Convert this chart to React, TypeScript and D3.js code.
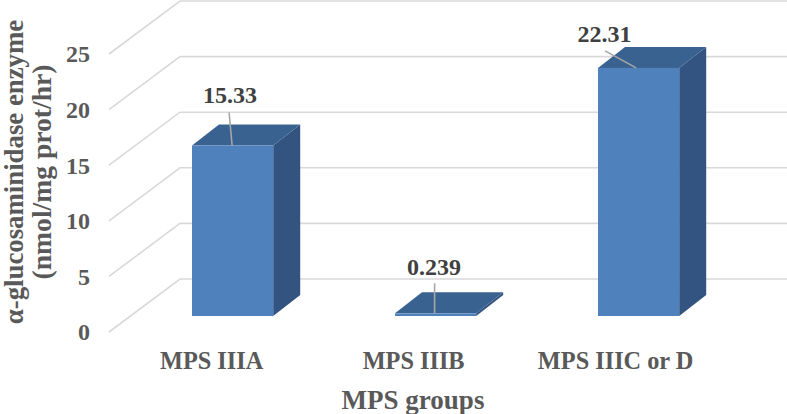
import React from 'react';
import * as d3 from 'd3';

const categories = ['MPS IIIA', 'MPS IIIB', 'MPS IIIC or D'];
const values = [15.33, 0.239, 22.31];
const valueLabels = ['15.33', '0.239', '22.31'];
const yTicks = [0, 5, 10, 15, 20, 25];
const yTitle = ['α-glucosaminidase enzyme', '(nmol/mg prot/hr)'];
const xTitle = 'MPS groups';

const width = 787;
const height = 414;
const font = '"Liberation Serif", serif';

// 3d offsets
const gridDy = -53;
const barDx = 27;
const barDy = -21;
const floorY = 316; // front of the bars
const labelShift = [-21, -22, -23];

// y scale on the front edge of the grid, 55.6px per 5 units
const y = d3.scaleLinear().domain([0, 25]).range([332, 54]);
const barH = d3.scaleLinear().domain([0, 25]).range([0, 278]);
const x = d3.scaleBand().domain(categories).range([131.1, 740.1]).paddingInner(0.6).paddingOuter(0.3);

// leader lines go from the bar to its label, offsets per bar
const leaders = [
  { from: [-0.5, 0], to: [-3.5, -33] },
  { from: [-1, 0], to: [-1, -30] },
  { from: [-2.5, 0], to: [-33.5, -17] },
];
const labelPos = [
  { dx: -2.5, dy: -51 },
  { dx: -1.5, dy: -47 },
  { dx: -34, dy: -34 },
];

export default function App() {
  return (
    <svg width={width} height={height} style={{ position: 'absolute', left: 0, top: 0, background: '#fff' }} fontFamily={font} fontWeight="bold">
      {yTicks.map((t) => (
        <g key={t}>
          <polyline
            points={`109,${y(t)} 180,${y(t) + gridDy} ${width},${y(t) + gridDy}`}
            fill="none"
            stroke="#d9d9d9"
            strokeWidth={1.6}
          />
          <text x={90} y={y(t)} dy="0.35em" textAnchor="end" fontSize={24} fill="#595959">
            {t}
          </text>
        </g>
      ))}

      {categories.map((c, i) => {
        const x0 = x(c) as number;
        const x1 = x0 + x.bandwidth();
        const top = floorY - barH(values[i]);
        const cx = (x0 + x1) / 2;
        return (
          <g key={c}>
            <polygon points={`${x1},${top} ${x1 + barDx},${top + barDy} ${x1 + barDx},${floorY + barDy} ${x1},${floorY}`} fill="#335380" />
            <polygon points={`${x0},${top} ${x0 + barDx},${top + barDy} ${x1 + barDx},${top + barDy} ${x1},${top}`} fill="#3a6291" />
            <rect x={x0} y={top} width={x.bandwidth()} height={barH(values[i])} fill="#4f81bd" />
            <line
              x1={cx + leaders[i].from[0]}
              y1={top + leaders[i].from[1]}
              x2={cx + leaders[i].to[0]}
              y2={top + leaders[i].to[1]}
              stroke="#a6a6a6"
              strokeWidth={1.6}
            />
            <text x={cx + labelPos[i].dx} y={top + labelPos[i].dy} dy="0.35em" textAnchor="middle" fontSize={24} fill="#404040">
              {valueLabels[i]}
            </text>
            <text x={cx + labelShift[i]} y={360} dy="0.35em" textAnchor="middle" fontSize={24.3} fill="#595959">
              {c}
            </text>
          </g>
        );
      })}

      <text x={413} y={400} dy="0.35em" textAnchor="middle" fontSize={27} fill="#595959">
        {xTitle}
      </text>
      {yTitle.map((line, i) => (
        <text
          key={line}
          transform={`translate(${14 + i * 27},172) rotate(-90)`}
          dy="0.35em"
          textAnchor="middle"
          fontSize={i === 0 ? 26.8 : 27.6}
          fill="#595959"
        >
          {line}
        </text>
      ))}
    </svg>
  );
}
